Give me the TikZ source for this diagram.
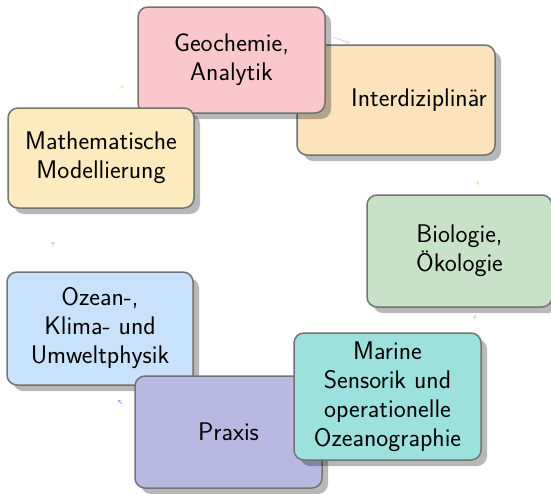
\documentclass[tikz,border=0pt]{standalone}
\usetikzlibrary{shadows,arrows.meta}
\definecolor{cPink}{RGB}{249,199,204}
\definecolor{cOrange}{RGB}{252,227,190}
\definecolor{cYellow}{RGB}{253,235,191}
\definecolor{cGreen}{RGB}{200,226,200}
\definecolor{cTeal}{RGB}{156,225,221}
\definecolor{cViolet}{RGB}{184,184,224}
\definecolor{cBlue}{RGB}{200,226,252}
\tikzset{
  modbox/.style={draw=black!55, line width=1.5pt, rounded corners=10pt,
    align=center, inner sep=0pt,
    font=\sffamily\fontsize{25.5}{29}\selectfont,
    drop shadow={shadow xshift=6pt, shadow yshift=-6pt, opacity=0.28, fill=black}},
  tinyarrow/.style={line width=0.8pt, -{Stealth[length=3pt,width=3.5pt]}}
}
\begin{document}
\begin{tikzpicture}[x=1pt,y=1pt]
\useasboundingbox (0,0) rectangle (551,-493);
\node[modbox, fill=cGreen, minimum width=185, minimum height=112] (bio) at (459.5,-251) {Biologie,\\Ökologie};
\node[modbox, fill=cOrange, minimum width=198, minimum height=110] (inter) at (396,-100) {\hspace*{46pt}Interdiziplinär};
\node[modbox, fill=cPink, minimum width=187, minimum height=106] (geo) at (231.5,-60) {Geochemie,\\Analytik};
\node[modbox, fill=cYellow, minimum width=186, minimum height=100] (math) at (101,-158) {Mathematische\\Modellierung};
\node[modbox, fill=cBlue, minimum width=186, minimum height=113] (ozean) at (100,-328.5) {Ozean-,\\Klima- und\\Umweltphysik};
\node[modbox, fill=cViolet, minimum width=187, minimum height=112] (praxis) at (228.5,-432) {Praxis};
\node[modbox, fill=cTeal, minimum width=187, minimum height=127] (marine) at (387.5,-396.5) {Marine\\Sensorik und\\operationelle\\Ozeanographie};
\coordinate (c) at (270,-245);
\draw[tinyarrow, cPink] (c) ++(73:217) arc (73:68.5:217);
\draw[tinyarrow, cOrange!90!orange] (c) ++(17.5:217) arc (17.5:16:217);
\draw[tinyarrow, cGreen!90!green] (c) ++(-18.5:217) arc (-18.5:-20:217);
\draw[tinyarrow, cViolet!90!blue] (c) ++(227:217) arc (227:225.5:217);
\draw[tinyarrow, cBlue!90!blue] (c) ++(180.5:217) arc (180.5:179:217);
\draw[tinyarrow, cYellow!90!orange] (c) ++(134:217) arc (134:132.5:217);
\end{tikzpicture}
\end{document}
